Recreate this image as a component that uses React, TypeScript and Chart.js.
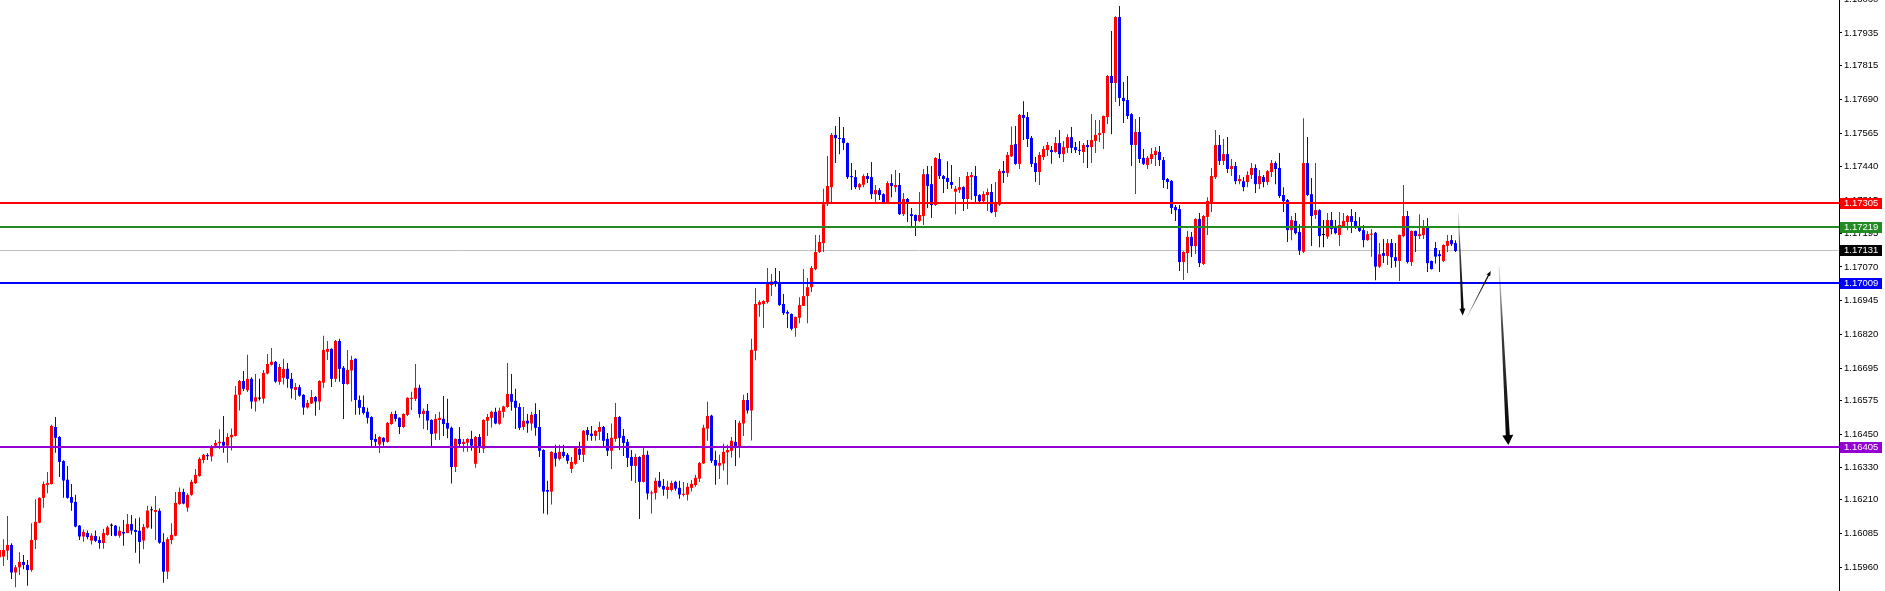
import React, { useEffect, useRef } from "react";
import { Chart, registerables } from "chart.js";

Chart.register(...registerables);

// index of the first candle (partly hidden at the left edge)
const firstIndex = -1;

const opens: number[] = [
  1.15996, 1.15999, 1.16021, 1.16042, 1.15940, 1.15959, 1.15979, 1.15968, 1.15949, 1.16060, 1.16124,
  1.16216, 1.16264, 1.16267, 1.16478, 1.16441, 1.16352, 1.16283, 1.16219, 1.16201, 1.16113,
  1.16073, 1.16086, 1.16058, 1.16075, 1.16060, 1.16049, 1.16079, 1.16113, 1.16113, 1.16076,
  1.16090, 1.16086, 1.16119, 1.16097, 1.16094, 1.16058, 1.16106, 1.16170, 1.16164, 1.16168,
  1.16053, 1.15943, 1.16060, 1.16076, 1.16193, 1.16238, 1.16180, 1.16227, 1.16270, 1.16297,
  1.16356, 1.16374, 1.16369, 1.16409, 1.16418, 1.16423, 1.16409, 1.16440, 1.16445, 1.16597,
  1.16648, 1.16614, 1.16656, 1.16572, 1.16583, 1.16583, 1.16676, 1.16708, 1.16719, 1.16645,
  1.16660, 1.16693, 1.16656, 1.16615, 1.16625, 1.16597, 1.16550, 1.16565, 1.16589, 1.16572,
  1.16642, 1.16756, 1.16767, 1.16656, 1.16796, 1.16697, 1.16637, 1.16687, 1.16730, 1.16578,
  1.16552, 1.16534, 1.16515, 1.16434, 1.16413, 1.16438, 1.16423, 1.16489, 1.16526, 1.16512,
  1.16478, 1.16523, 1.16582, 1.16582, 1.16623, 1.16526, 1.16538, 1.16504, 1.16454, 1.16504,
  1.16508, 1.16493, 1.16475, 1.16330, 1.16434, 1.16415, 1.16420, 1.16434, 1.16342, 1.16441,
  1.16398, 1.16501, 1.16512, 1.16534, 1.16490, 1.16534, 1.16552, 1.16600, 1.16575, 1.16552,
  1.16478, 1.16501, 1.16491, 1.16526, 1.16478, 1.16393, 1.16245, 1.16239, 1.16382, 1.16360,
  1.16386, 1.16375, 1.16323, 1.16342, 1.16397, 1.16375, 1.16467, 1.16453, 1.16445, 1.16460,
  1.16478, 1.16434, 1.16390, 1.16434, 1.16515, 1.16445, 1.16423, 1.16367, 1.16334, 1.16367,
  1.16275, 1.16375, 1.16232, 1.16234, 1.16279, 1.16260, 1.16245, 1.16245, 1.16275, 1.16253,
  1.16227, 1.16228, 1.16253, 1.16263, 1.16287, 1.16343, 1.16472, 1.16520, 1.16356, 1.16335,
  1.16343, 1.16384, 1.16390, 1.16423, 1.16406, 1.16491, 1.16578, 1.16539, 1.16760, 1.16930,
  1.16933, 1.16940, 1.17003, 1.17018, 1.17011, 1.16933, 1.16903, 1.16896, 1.16844, 1.16882,
  1.16926, 1.16962, 1.16995, 1.17062, 1.17125, 1.17158, 1.17302, 1.17365, 1.17558, 1.17546,
  1.17546, 1.17528, 1.17406, 1.17402, 1.17364, 1.17374, 1.17406, 1.17402, 1.17339, 1.17354,
  1.17339, 1.17310, 1.17380, 1.17365, 1.17373, 1.17265, 1.17321, 1.17265, 1.17262, 1.17240,
  1.17258, 1.17413, 1.17376, 1.17299, 1.17469, 1.17406, 1.17399, 1.17384, 1.17348, 1.17355,
  1.17365, 1.17321, 1.17402, 1.17406, 1.17336, 1.17313, 1.17336, 1.17347, 1.17273, 1.17300,
  1.17425, 1.17417, 1.17479, 1.17524, 1.17451, 1.17632, 1.17624, 1.17547, 1.17454, 1.17421,
  1.17476, 1.17502, 1.17502, 1.17495, 1.17528, 1.17487, 1.17510, 1.17550, 1.17513, 1.17502,
  1.17495, 1.17521, 1.17513, 1.17536, 1.17558, 1.17565, 1.17624, 1.17776, 1.17750, 1.17994,
  1.17695, 1.17687, 1.17635, 1.17521, 1.17569, 1.17473, 1.17447, 1.17469, 1.17484, 1.17495,
  1.17465, 1.17395, 1.17388, 1.17291, 1.17284, 1.17088, 1.17121, 1.17181, 1.17147, 1.17247,
  1.17081, 1.17255, 1.17310, 1.17402, 1.17521, 1.17462, 1.17487, 1.17432, 1.17443, 1.17387,
  1.17387, 1.17384, 1.17410, 1.17436, 1.17376, 1.17402, 1.17384, 1.17421, 1.17454, 1.17436,
  1.17336, 1.17317, 1.17206, 1.17240, 1.17199, 1.17126, 1.17454, 1.17339, 1.17262, 1.17280,
  1.17188, 1.17182, 1.17243, 1.17214, 1.17188, 1.17221, 1.17236, 1.17258, 1.17240, 1.17221,
  1.17206, 1.17169, 1.17189, 1.17196, 1.17071, 1.17121, 1.17110, 1.17158, 1.17106, 1.17092,
  1.17184, 1.17258, 1.17088, 1.17203, 1.17184, 1.17188, 1.17221, 1.17092, 1.17140, 1.17117,
  1.17092, 1.17148, 1.17169, 1.17158,
];

const highs: number[] = [
  1.16042, 1.16063, 1.16149, 1.16048, 1.15968, 1.16015, 1.16005, 1.15986, 1.16122, 1.16211, 1.16218,
  1.16276, 1.16312, 1.16486, 1.16515, 1.16445, 1.16355, 1.16334, 1.16267, 1.16227, 1.16116,
  1.16099, 1.16095, 1.16085, 1.16095, 1.16073, 1.16102, 1.16113, 1.16121, 1.16116, 1.16110,
  1.16134, 1.16156, 1.16153, 1.16140, 1.16143, 1.16119, 1.16187, 1.16184, 1.16223, 1.16177,
  1.16085, 1.16070, 1.16122, 1.16238, 1.16254, 1.16250, 1.16233, 1.16283, 1.16323, 1.16366,
  1.16378, 1.16381, 1.16411, 1.16430, 1.16470, 1.16519, 1.16455, 1.16472, 1.16630, 1.16652,
  1.16685, 1.16745, 1.16662, 1.16674, 1.16656, 1.16689, 1.16748, 1.16770, 1.16722, 1.16711,
  1.16730, 1.16715, 1.16678, 1.16641, 1.16634, 1.16599, 1.16578, 1.16615, 1.16593, 1.16651,
  1.16815, 1.16796, 1.16769, 1.16800, 1.16804, 1.16704, 1.16763, 1.16741, 1.16732, 1.16594,
  1.16594, 1.16549, 1.16518, 1.16452, 1.16444, 1.16440, 1.16496, 1.16534, 1.16538, 1.16514,
  1.16529, 1.16588, 1.16608, 1.16711, 1.16634, 1.16546, 1.16563, 1.16507, 1.16526, 1.16534,
  1.16593, 1.16582, 1.16480, 1.16436, 1.16478, 1.16434, 1.16436, 1.16464, 1.16445, 1.16452,
  1.16507, 1.16526, 1.16538, 1.16549, 1.16549, 1.16557, 1.16715, 1.16674, 1.16619, 1.16566,
  1.16552, 1.16526, 1.16534, 1.16566, 1.16541, 1.16396, 1.16279, 1.16388, 1.16412, 1.16412,
  1.16412, 1.16382, 1.16367, 1.16404, 1.16423, 1.16467, 1.16478, 1.16482, 1.16466, 1.16497,
  1.16482, 1.16456, 1.16491, 1.16567, 1.16519, 1.16471, 1.16434, 1.16393, 1.16379, 1.16370,
  1.16401, 1.16390, 1.16242, 1.16290, 1.16312, 1.16286, 1.16279, 1.16279, 1.16279, 1.16279,
  1.16275, 1.16271, 1.16282, 1.16301, 1.16349, 1.16486, 1.16571, 1.16523, 1.16390, 1.16375,
  1.16416, 1.16412, 1.16441, 1.16504, 1.16501, 1.16597, 1.16604, 1.16804, 1.16992, 1.16947,
  1.16947, 1.17066, 1.17044, 1.17066, 1.17055, 1.16970, 1.16910, 1.16898, 1.16887, 1.16958,
  1.17062, 1.17029, 1.17073, 1.17188, 1.17188, 1.17359, 1.17480, 1.17565, 1.17591, 1.17624,
  1.17587, 1.17530, 1.17454, 1.17428, 1.17380, 1.17413, 1.17417, 1.17458, 1.17373, 1.17362,
  1.17342, 1.17387, 1.17413, 1.17428, 1.17417, 1.17343, 1.17325, 1.17288, 1.17264, 1.17347,
  1.17432, 1.17443, 1.17443, 1.17476, 1.17491, 1.17410, 1.17461, 1.17447, 1.17369, 1.17402,
  1.17368, 1.17421, 1.17421, 1.17443, 1.17339, 1.17350, 1.17360, 1.17377, 1.17384, 1.17432,
  1.17462, 1.17495, 1.17589, 1.17591, 1.17635, 1.17683, 1.17643, 1.17554, 1.17476, 1.17495,
  1.17517, 1.17532, 1.17517, 1.17550, 1.17576, 1.17536, 1.17561, 1.17587, 1.17532, 1.17536,
  1.17528, 1.17539, 1.17635, 1.17613, 1.17613, 1.17630, 1.17780, 1.17942, 1.17997, 1.18035,
  1.17754, 1.17776, 1.17638, 1.17617, 1.17624, 1.17506, 1.17480, 1.17510, 1.17513, 1.17517,
  1.17476, 1.17399, 1.17391, 1.17299, 1.17299, 1.17128, 1.17203, 1.17199, 1.17250, 1.17269,
  1.17262, 1.17328, 1.17436, 1.17576, 1.17558, 1.17543, 1.17550, 1.17469, 1.17458, 1.17410,
  1.17402, 1.17424, 1.17454, 1.17450, 1.17428, 1.17410, 1.17428, 1.17465, 1.17461, 1.17491,
  1.17365, 1.17321, 1.17258, 1.17269, 1.17228, 1.17620, 1.17550, 1.17399, 1.17454, 1.17283,
  1.17243, 1.17269, 1.17273, 1.17243, 1.17273, 1.17269, 1.17262, 1.17284, 1.17273, 1.17254,
  1.17225, 1.17203, 1.17210, 1.17199, 1.17158, 1.17173, 1.17173, 1.17173, 1.17158, 1.17190,
  1.17373, 1.17277, 1.17205, 1.17205, 1.17265, 1.17243, 1.17251, 1.17094, 1.17162, 1.17132,
  1.17154, 1.17188, 1.17188, 1.17169,
];

const lows: number[] = [
  1.15980, 1.15964, 1.15986, 1.15916, 1.15885, 1.15931, 1.15952, 1.15891, 1.15943, 1.16027, 1.16122,
  1.16179, 1.16233, 1.16265, 1.16383, 1.16293, 1.16216, 1.16213, 1.16168, 1.16107, 1.16060,
  1.16054, 1.16063, 1.16043, 1.16053, 1.16028, 1.16028, 1.16076, 1.16075, 1.16074, 1.16068,
  1.16039, 1.16085, 1.16080, 1.16013, 1.15973, 1.16026, 1.16103, 1.16102, 1.16060, 1.16046,
  1.15902, 1.15916, 1.16044, 1.16074, 1.16190, 1.16192, 1.16165, 1.16224, 1.16267, 1.16294,
  1.16344, 1.16356, 1.16350, 1.16399, 1.16397, 1.16383, 1.16346, 1.16391, 1.16443, 1.16539,
  1.16611, 1.16607, 1.16545, 1.16535, 1.16576, 1.16565, 1.16673, 1.16705, 1.16642, 1.16634,
  1.16635, 1.16623, 1.16583, 1.16578, 1.16590, 1.16523, 1.16546, 1.16563, 1.16520, 1.16541,
  1.16623, 1.16726, 1.16626, 1.16644, 1.16645, 1.16508, 1.16634, 1.16572, 1.16523, 1.16523,
  1.16524, 1.16491, 1.16408, 1.16408, 1.16382, 1.16409, 1.16420, 1.16486, 1.16498, 1.16452,
  1.16475, 1.16519, 1.16541, 1.16574, 1.16512, 1.16471, 1.16467, 1.16408, 1.16430, 1.16430,
  1.16445, 1.16436, 1.16269, 1.16312, 1.16406, 1.16386, 1.16386, 1.16390, 1.16327, 1.16382,
  1.16382, 1.16445, 1.16476, 1.16488, 1.16486, 1.16512, 1.16549, 1.16538, 1.16471, 1.16467,
  1.16467, 1.16457, 1.16465, 1.16446, 1.16367, 1.16158, 1.16154, 1.16191, 1.16332, 1.16354,
  1.16364, 1.16342, 1.16308, 1.16338, 1.16356, 1.16349, 1.16427, 1.16427, 1.16427, 1.16430,
  1.16408, 1.16371, 1.16323, 1.16423, 1.16393, 1.16371, 1.16330, 1.16279, 1.16271, 1.16138,
  1.16273, 1.16210, 1.16158, 1.16210, 1.16253, 1.16224, 1.16213, 1.16239, 1.16242, 1.16213,
  1.16221, 1.16206, 1.16239, 1.16257, 1.16275, 1.16342, 1.16427, 1.16345, 1.16264, 1.16286,
  1.16317, 1.16264, 1.16365, 1.16334, 1.16364, 1.16445, 1.16528, 1.16428, 1.16725, 1.16886,
  1.16844, 1.16935, 1.16962, 1.16997, 1.16925, 1.16892, 1.16844, 1.16836, 1.16812, 1.16862,
  1.16925, 1.16862, 1.16977, 1.17058, 1.17121, 1.17125, 1.17295, 1.17310, 1.17454, 1.17487,
  1.17502, 1.17395, 1.17354, 1.17358, 1.17354, 1.17365, 1.17380, 1.17321, 1.17310, 1.17317,
  1.17307, 1.17306, 1.17328, 1.17347, 1.17262, 1.17258, 1.17236, 1.17214, 1.17184, 1.17236,
  1.17225, 1.17288, 1.17251, 1.17295, 1.17395, 1.17343, 1.17358, 1.17359, 1.17265, 1.17343,
  1.17277, 1.17284, 1.17317, 1.17310, 1.17310, 1.17306, 1.17277, 1.17268, 1.17255, 1.17295,
  1.17380, 1.17402, 1.17476, 1.17448, 1.17432, 1.17539, 1.17513, 1.17439, 1.17384, 1.17373,
  1.17465, 1.17480, 1.17451, 1.17492, 1.17473, 1.17458, 1.17491, 1.17491, 1.17491, 1.17484,
  1.17454, 1.17436, 1.17454, 1.17491, 1.17532, 1.17506, 1.17598, 1.17561, 1.17680, 1.17665,
  1.17602, 1.17617, 1.17443, 1.17340, 1.17454, 1.17447, 1.17432, 1.17451, 1.17443, 1.17443,
  1.17362, 1.17358, 1.17266, 1.17240, 1.17055, 1.17022, 1.17047, 1.17107, 1.17118, 1.17070,
  1.17077, 1.17188, 1.17273, 1.17395, 1.17447, 1.17447, 1.17417, 1.17406, 1.17376, 1.17376,
  1.17350, 1.17365, 1.17395, 1.17343, 1.17358, 1.17365, 1.17373, 1.17402, 1.17376, 1.17325,
  1.17273, 1.17162, 1.17169, 1.17191, 1.17114, 1.17121, 1.17332, 1.17147, 1.17247, 1.17143,
  1.17143, 1.17173, 1.17191, 1.17191, 1.17147, 1.17217, 1.17206, 1.17195, 1.17210, 1.17199,
  1.17143, 1.17167, 1.17108, 1.17021, 1.17066, 1.17084, 1.17077, 1.17066, 1.17069, 1.17018,
  1.17180, 1.17083, 1.17073, 1.17125, 1.17173, 1.17173, 1.17051, 1.17060, 1.17083, 1.17051,
  1.17088, 1.17125, 1.17147, 1.17125,
];

const closes: number[] = [
  1.16023, 1.16023, 1.16042, 1.15940, 1.15959, 1.15979, 1.15968, 1.15949, 1.16060, 1.16127, 1.16216,
  1.16267, 1.16271, 1.16482, 1.16438, 1.16349, 1.16280, 1.16216, 1.16198, 1.16110, 1.16073,
  1.16090, 1.16071, 1.16076, 1.16057, 1.16049, 1.16086, 1.16107, 1.16113, 1.16076, 1.16094,
  1.16084, 1.16119, 1.16095, 1.16090, 1.16053, 1.16108, 1.16169, 1.16170, 1.16171, 1.16050,
  1.15943, 1.16063, 1.16079, 1.16197, 1.16238, 1.16195, 1.16227, 1.16275, 1.16301, 1.16360,
  1.16375, 1.16370, 1.16402, 1.16419, 1.16423, 1.16409, 1.16441, 1.16449, 1.16597, 1.16648,
  1.16619, 1.16656, 1.16572, 1.16588, 1.16583, 1.16678, 1.16711, 1.16719, 1.16646, 1.16700,
  1.16693, 1.16656, 1.16620, 1.16626, 1.16594, 1.16550, 1.16567, 1.16589, 1.16572, 1.16648,
  1.16763, 1.16767, 1.16656, 1.16796, 1.16693, 1.16637, 1.16689, 1.16726, 1.16578, 1.16549,
  1.16530, 1.16512, 1.16430, 1.16423, 1.16441, 1.16423, 1.16493, 1.16526, 1.16508, 1.16478,
  1.16526, 1.16586, 1.16586, 1.16623, 1.16526, 1.16538, 1.16502, 1.16452, 1.16508, 1.16512,
  1.16489, 1.16472, 1.16330, 1.16434, 1.16415, 1.16423, 1.16434, 1.16409, 1.16441, 1.16401,
  1.16504, 1.16515, 1.16534, 1.16491, 1.16538, 1.16554, 1.16600, 1.16571, 1.16549, 1.16475,
  1.16501, 1.16491, 1.16523, 1.16475, 1.16390, 1.16239, 1.16239, 1.16386, 1.16361, 1.16386,
  1.16371, 1.16353, 1.16349, 1.16401, 1.16375, 1.16464, 1.16449, 1.16445, 1.16464, 1.16478,
  1.16427, 1.16390, 1.16438, 1.16515, 1.16438, 1.16419, 1.16364, 1.16334, 1.16367, 1.16275,
  1.16375, 1.16232, 1.16234, 1.16279, 1.16257, 1.16247, 1.16257, 1.16271, 1.16250, 1.16228,
  1.16231, 1.16257, 1.16268, 1.16290, 1.16345, 1.16475, 1.16519, 1.16353, 1.16335, 1.16345,
  1.16386, 1.16393, 1.16427, 1.16406, 1.16493, 1.16578, 1.16539, 1.16763, 1.16933, 1.16940,
  1.16944, 1.17014, 1.17016, 1.17011, 1.16929, 1.16899, 1.16897, 1.16841, 1.16885, 1.16929,
  1.16962, 1.16995, 1.17066, 1.17125, 1.17162, 1.17302, 1.17369, 1.17558, 1.17546, 1.17543,
  1.17528, 1.17402, 1.17402, 1.17365, 1.17376, 1.17406, 1.17395, 1.17339, 1.17354, 1.17336,
  1.17310, 1.17380, 1.17369, 1.17373, 1.17265, 1.17321, 1.17306, 1.17258, 1.17240, 1.17262,
  1.17413, 1.17369, 1.17299, 1.17473, 1.17406, 1.17395, 1.17384, 1.17373, 1.17359, 1.17365,
  1.17321, 1.17406, 1.17410, 1.17332, 1.17313, 1.17339, 1.17347, 1.17272, 1.17303, 1.17425,
  1.17417, 1.17484, 1.17521, 1.17451, 1.17632, 1.17621, 1.17543, 1.17451, 1.17421, 1.17484,
  1.17506, 1.17521, 1.17495, 1.17528, 1.17487, 1.17513, 1.17550, 1.17510, 1.17502, 1.17499,
  1.17521, 1.17513, 1.17539, 1.17558, 1.17565, 1.17628, 1.17776, 1.17750, 1.17994, 1.17695,
  1.17683, 1.17628, 1.17521, 1.17569, 1.17469, 1.17451, 1.17473, 1.17487, 1.17499, 1.17465,
  1.17391, 1.17384, 1.17288, 1.17280, 1.17088, 1.17125, 1.17181, 1.17147, 1.17247, 1.17084,
  1.17258, 1.17314, 1.17406, 1.17521, 1.17462, 1.17487, 1.17432, 1.17443, 1.17387, 1.17395,
  1.17365, 1.17410, 1.17436, 1.17376, 1.17406, 1.17384, 1.17424, 1.17454, 1.17432, 1.17332,
  1.17313, 1.17206, 1.17243, 1.17195, 1.17130, 1.17454, 1.17336, 1.17258, 1.17280, 1.17184,
  1.17188, 1.17243, 1.17210, 1.17195, 1.17225, 1.17240, 1.17258, 1.17236, 1.17219, 1.17203,
  1.17169, 1.17191, 1.17191, 1.17071, 1.17117, 1.17111, 1.17158, 1.17106, 1.17092, 1.17188,
  1.17258, 1.17088, 1.17203, 1.17184, 1.17191, 1.17221, 1.17084, 1.17062, 1.17108, 1.17110,
  1.17151, 1.17166, 1.17154, 1.17129,
];

// price-axis tick labels
const yTickValues: number[] = [
  1.18060, 1.17935, 1.17815, 1.17690, 1.17565, 1.17440, 1.17315, 1.17195, 1.17070,
  1.16945, 1.16820, 1.16695, 1.16575, 1.16450, 1.16330, 1.16210, 1.16085, 1.15960,
];

// horizontal levels
const levelPrices: number[] = [1.17305, 1.17219, 1.17009, 1.16405];
const levelColors: string[] = ["#ff0000", "#228b22", "#0000ff", "#9400d3"];
const lastPrice = 1.17131;

// arrows (candle index, price)
const arrowStartIndex: number[] = [363.7, 365.95, 373.9];
const arrowStartPrice: number[] = [1.1727, 1.16886, 1.17071];
const arrowEndIndex: number[] = [364.8, 371.8, 376.2];
const arrowEndPrice: number[] = [1.1689, 1.17055, 1.16411];
const arrowStyles = [
  { w0: 0.6, w1: 2.6, hw: 6, hl: 7, c0: "rgba(0,0,0,0.15)", c1: "#000" },
  { w0: 0.4, w1: 1.3, hw: 4, hl: 5, c0: "rgba(0,0,0,0.2)", c1: "#000" },
  { w0: 0.8, w1: 4, hw: 11, hl: 10, c0: "rgba(0,0,0,0.15)", c1: "#000" },
];

const Y_MAX = 1.18057;
const Y_MIN = 1.158715;
const X_MIN = -0.875;
const X_MAX = 458.875;
const FONT = { family: "'Liberation Sans', Arial, sans-serif", size: 9.5 };

function drawArrow(ctx: CanvasRenderingContext2D, x0: number, y0: number, x1: number, y1: number, s: any) {
  const dx = x1 - x0, dy = y1 - y0;
  const len = Math.hypot(dx, dy);
  const ux = dx / len, uy = dy / len;
  const nx = -uy, ny = ux;
  const bx = x1 - ux * s.hl, by = y1 - uy * s.hl;
  const g = ctx.createLinearGradient(x0, y0, x1, y1);
  g.addColorStop(0, s.c0);
  g.addColorStop(0.35, "rgba(0,0,0,0.75)");
  g.addColorStop(1, s.c1);
  ctx.fillStyle = g;
  ctx.beginPath();
  ctx.moveTo(x0 + (nx * s.w0) / 2, y0 + (ny * s.w0) / 2);
  ctx.lineTo(bx + (nx * s.w1) / 2, by + (ny * s.w1) / 2);
  ctx.lineTo(bx + (nx * s.hw) / 2, by + (ny * s.hw) / 2);
  ctx.lineTo(x1, y1);
  ctx.lineTo(bx - (nx * s.hw) / 2, by - (ny * s.hw) / 2);
  ctx.lineTo(bx - (nx * s.w1) / 2, by - (ny * s.w1) / 2);
  ctx.lineTo(x0 - (nx * s.w0) / 2, y0 - (ny * s.w0) / 2);
  ctx.closePath();
  ctx.fill();
}

const overlayPlugin = {
  id: "overlay",
  beforeDatasetsDraw(chart: any) {
    const { ctx, chartArea, scales } = chart;
    const y = scales.y;
    ctx.save();
    const py = Math.round(y.getPixelForValue(lastPrice)) + 0.5;
    ctx.strokeStyle = "#c0c0c0";
    ctx.lineWidth = 1;
    ctx.beginPath();
    ctx.moveTo(chartArea.left, py);
    ctx.lineTo(chartArea.right, py);
    ctx.stroke();
    ctx.restore();
  },
  afterDatasetsDraw(chart: any) {
    const { ctx, chartArea, scales } = chart;
    const x = scales.x;
    const y = scales.y;
    ctx.save();
    ctx.beginPath();
    ctx.rect(chartArea.left, chartArea.top, chartArea.right - chartArea.left, chartArea.bottom - chartArea.top);
    ctx.clip();
    levelPrices.forEach((p, k) => {
      const py = Math.round(y.getPixelForValue(p));
      ctx.fillStyle = levelColors[k];
      ctx.fillRect(chartArea.left, py - 1, chartArea.right - chartArea.left, 2);
    });
    arrowStartIndex.forEach((_, k) => {
      drawArrow(
        ctx,
        x.getPixelForValue(arrowStartIndex[k]),
        y.getPixelForValue(arrowStartPrice[k]),
        x.getPixelForValue(arrowEndIndex[k]),
        y.getPixelForValue(arrowEndPrice[k]),
        arrowStyles[k]
      );
    });
    ctx.restore();
  },
  afterDraw(chart: any) {
    const { ctx, chartArea, scales } = chart;
    const y = scales.y;
    const boxes = [
      { p: levelPrices[0], c: levelColors[0] },
      { p: levelPrices[1], c: levelColors[1] },
      { p: lastPrice, c: "#000000" },
      { p: levelPrices[2], c: levelColors[2] },
      { p: levelPrices[3], c: levelColors[3] },
    ];
    ctx.save();
    ctx.font = `${FONT.size}px ${FONT.family}`;
    ctx.textBaseline = "middle";
    ctx.textAlign = "left";
    boxes.forEach((b) => {
      const py = Math.round(y.getPixelForValue(b.p));
      ctx.fillStyle = b.c;
      ctx.fillRect(chartArea.right + 1, py - 5, 42, 11);
      ctx.fillStyle = "#ffffff";
      ctx.fillText(b.p.toFixed(5), chartArea.right + 5, py + 0.5);
    });
    ctx.restore();
  },
};

export default function App() {
  const ref = useRef<HTMLCanvasElement>(null);
  useEffect(() => {
    document.body.style.margin = "0";
    if (!ref.current) return;
    const idx = opens.map((_, k) => k + firstIndex);
    const colors = opens.map((o, k) =>
      closes[k] > o ? "#ff0000" : closes[k] < o ? "#0000ff" : "#000000"
    );
    const chart = new Chart(ref.current, {
      type: "bar",
      data: {
        datasets: [
          {
            label: "wick",
            data: idx.map((v, k) => ({ x: v, y: [lows[k], highs[k]] })) as any,
            backgroundColor: colors,
            barThickness: 1,
            grouped: false,
            order: 2,
            inflateAmount: 0,
            borderWidth: 0,
          } as any,
          {
            label: "body",
            data: idx.map((v, k) => ({ x: v, y: [opens[k], closes[k]] })) as any,
            backgroundColor: colors,
            barThickness: 3,
            minBarLength: 1,
            grouped: false,
            order: 1,
            inflateAmount: 0,
            borderWidth: 0,
          } as any,
        ],
      },
      options: {
        responsive: false,
        animation: false,
        devicePixelRatio: 1,
        layout: { padding: 0 },
        plugins: { legend: { display: false }, tooltip: { enabled: false } },
        scales: {
          x: {
            type: "linear",
            min: X_MIN,
            max: X_MAX,
            offset: false,
            display: false,
          },
          y: {
            position: "right",
            min: Y_MIN,
            max: Y_MAX,
            afterBuildTicks: (s: any) => {
              s.ticks = yTickValues.map((v) => ({ value: v }));
            },
            afterFit: (s: any) => {
              s.width = 46;
              s.paddingTop = 0;
              s.paddingBottom = 0;
            },
            grid: {
              display: true,
              drawOnChartArea: false,
              drawTicks: true,
              tickLength: 3,
              tickColor: "#000000",
              color: "#000000",
            },
            border: { display: true, color: "#000000", width: 1 },
            ticks: {
              autoSkip: false,
              padding: 2,
              color: "#000000",
              font: FONT,
              callback: (v: any) => Number(v).toFixed(5),
            },
          },
        },
      } as any,
      plugins: [overlayPlugin],
    });
    return () => chart.destroy();
  }, []);
  return (
    <div style={{ width: 1885, height: 591, background: "#ffffff" }}>
      <canvas ref={ref} width={1885} height={591} style={{ display: "block" }} />
    </div>
  );
}
